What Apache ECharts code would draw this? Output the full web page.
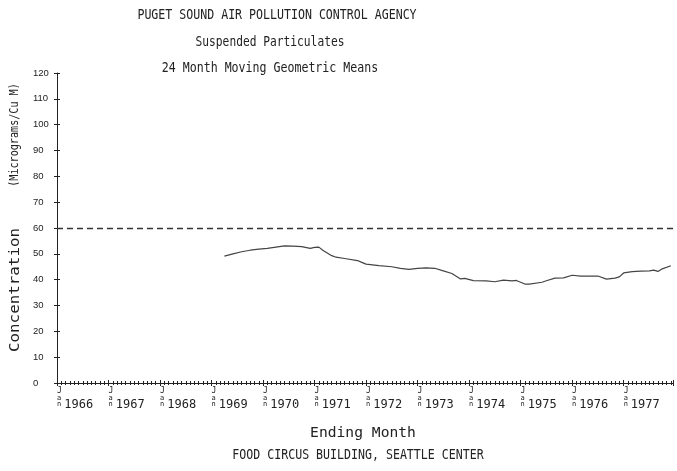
<!DOCTYPE html>
<html>
<head>
<meta charset="utf-8">
<script src="https://cdn.jsdelivr.net/npm/echarts@6/dist/echarts.min.js"></script>
<style>html,body{margin:0;padding:0;background:#fff;}#c{width:677px;height:471px;}</style>
</head>
<body>
<div id="c"></div>
<script>
// Ending month of each 24-month moving geometric mean (YYYY-MM)
const months = ['1969-04','1969-06','1969-08','1969-10','1969-12','1970-02','1970-04','1970-06','1970-08','1970-10','1970-12',
  '1971-01','1971-02','1971-03','1971-05','1971-06','1971-08','1971-11','1971-12','1972-01','1972-04','1972-07','1972-09','1972-11',
  '1973-01','1973-03','1973-05','1973-07','1973-09','1973-11','1973-12','1974-02','1974-05','1974-07','1974-09','1974-11','1974-12',
  '1975-02','1975-03','1975-06','1975-07','1975-09','1975-11','1976-01','1976-03','1976-07','1976-09','1976-11','1976-12',
  '1977-01','1977-03','1977-05','1977-07','1977-08','1977-09','1977-10','1977-12'];
// Concentration, micrograms per cubic metre
const values = [49.1,50.0,50.8,51.4,51.8,52.1,52.6,53.1,53.0,52.8,52.1,
  52.5,52.6,51.3,49.3,48.7,48.2,47.4,46.7,46.0,45.4,45.0,44.4,44.0,
  44.4,44.6,44.4,43.4,42.4,40.3,40.5,39.6,39.5,39.2,39.8,39.5,39.7,
  38.3,38.3,39.0,39.6,40.6,40.7,41.7,41.4,41.4,40.2,40.6,41.1,
  42.6,43.1,43.3,43.4,43.7,43.2,44.2,45.4];
const standard = 60;
const yearLabels = ['1966','1967','1968','1969','1970','1971','1972','1973','1974','1975','1976','1977'];
const startYear = 1966;

function monthIndex(s){ const p = s.split('-'); return (parseInt(p[0]) - startYear) * 12 + parseInt(p[1]) - 1; }
const seriesData = months.map((m, i) => [monthIndex(m), values[i]]);

const chart = echarts.init(document.getElementById('c'), null, {renderer: 'canvas'});
const MONO = '"DejaVu Sans Mono", monospace';
const ink = '#222';
const xBase = {
  type: 'value', min: 0, max: 143.5, interval: 12, gridIndex: 0, position: 'bottom',
  splitLine: {show: false}
};
const yBase = {
  type: 'value', min: 0, max: 120, interval: 10, gridIndex: 0, position: 'left',
  splitLine: {show: false}
};
function txt(x, y, text, size, sx, sy, rot){
  return {type: 'text', x: x, y: y, rotation: rot || 0, scaleX: sx, scaleY: sy,
    style: {text: text, font: size + 'px ' + MONO, fill: ink, align: 'center', verticalAlign: 'middle'}};
}
chart.setOption({
  animation: false,
  backgroundColor: '#fff',
  grid: {left: 57, right: 4, top: 73, bottom: 88, containLabel: false},
  xAxis: [
    Object.assign({}, xBase, {
      axisLine: {show: true, onZero: false, lineStyle: {color: ink, width: 1}},
      axisTick: {show: true, inside: false, length: 3, lineStyle: {color: ink}},
      minorTick: {show: true, splitNumber: 12, length: 2, lineStyle: {color: ink}},
      axisLabel: {
        show: true, align: 'left', margin: 3, color: ink,
        formatter: function(v){
          const y = yearLabels[Math.round(v / 12)];
          if (v % 12 !== 0 || !y) return '';
          return '{j|J}\n{a|a}\n{n|n}{y|' + y + '}';
        },
        rich: {
          j: {fontFamily: MONO, fontSize: 8, lineHeight: 9, color: ink},
          a: {fontFamily: MONO, fontSize: 7, lineHeight: 6, color: ink},
          n: {fontFamily: MONO, fontSize: 7, lineHeight: 7, color: ink},
          y: {fontFamily: MONO, fontSize: 12, lineHeight: 7, color: ink, padding: [0, 0, 0, 3]}
        }
      }
    }),
    Object.assign({}, xBase, {
      axisLine: {show: false},
      axisTick: {show: true, inside: true, length: 3, lineStyle: {color: ink}},
      minorTick: {show: true, splitNumber: 12, length: 2, lineStyle: {color: ink}},
      axisLabel: {show: false}
    })
  ],
  yAxis: [
    Object.assign({}, yBase, {
      axisLine: {show: true, onZero: false, lineStyle: {color: ink, width: 1}},
      axisTick: {show: true, inside: false, length: 3, lineStyle: {color: ink}},
      axisLabel: {show: true, align: 'left', margin: 24, color: ink,
        fontFamily: '"Liberation Sans Narrow", "Liberation Sans", sans-serif', fontSize: 9.5}
    }),
    Object.assign({}, yBase, {
      axisLine: {show: false},
      axisTick: {show: true, inside: true, length: 3, lineStyle: {color: ink}},
      axisLabel: {show: false}
    })
  ],
  series: [{
    type: 'line', xAxisIndex: 0, yAxisIndex: 0,
    data: seriesData, showSymbol: false, symbol: 'none',
    lineStyle: {color: '#444', width: 1.2},
    markLine: {
      silent: true, symbol: 'none', label: {show: false},
      lineStyle: {color: '#333', type: [6, 4], width: 1.4},
      data: [{yAxis: standard}]
    }
  }],
  graphic: [
    txt(277, 15, 'PUGET SOUND AIR POLLUTION CONTROL AGENCY', 11.6, 1, 1.2),
    txt(270, 42, 'Suspended Particulates', 11.6, 0.97, 1.2),
    txt(270, 68, '24 Month Moving Geometric Means', 11.6, 1, 1.2),
    txt(15, 290, 'Concentration', 12, 1.32, 1.15, Math.PI / 2),
    txt(15, 135, '(Micrograms/Cu M)', 11, 0.92, 1.15, Math.PI / 2),
    txt(363, 433, 'Ending Month', 12, 1.22, 1.15),
    txt(358, 456, 'FOOD CIRCUS BUILDING, SEATTLE CENTER', 11.6, 1.0, 1.15)
  ]
});
</script>
</body>
</html>
